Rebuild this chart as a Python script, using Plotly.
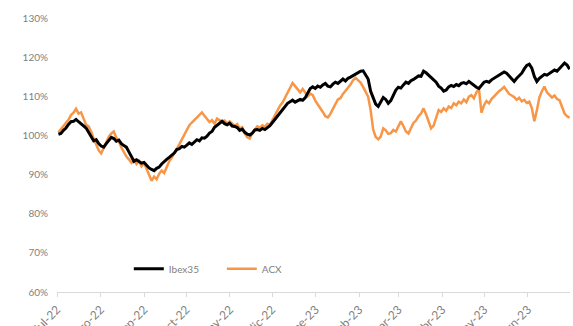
import pandas as pd
import plotly.graph_objects as go

ibex35 = [100.3, 100.5, 101.3, 101.9, 102.8, 103.5, 103.6, 104.1, 103.5, 103.0,
          102.3, 101.9, 100.8, 99.6, 98.6, 98.9, 97.9, 97.3, 97.0, 97.9,
          98.6, 99.5, 99.2, 98.5, 98.8, 97.9, 97.4, 97.0, 95.8, 94.6,
          93.4, 93.8, 93.3, 92.9, 93.1, 92.3, 91.7, 91.3, 91.0, 91.6,
          91.9, 92.7, 93.4, 93.9, 94.4, 95.0, 95.5, 96.4, 96.6, 97.2,
          97.0, 97.5, 98.1, 97.7, 98.3, 98.9, 98.6, 99.4, 99.3, 99.8,
          100.6, 101.0, 102.1, 102.6, 103.3, 103.6, 103.0, 102.7, 103.1, 102.4,
          102.3, 102.0, 101.3, 101.6, 100.8, 100.3, 100.1, 100.6, 101.4, 101.5,
          101.3, 101.8, 101.5, 102.0, 102.5, 103.3, 104.1, 104.9, 105.7, 106.6,
          107.5, 108.2, 108.6, 109.0, 108.5, 108.9, 109.2, 109.0, 109.6, 110.8,
          112.0, 112.4, 112.0, 112.6, 112.3, 112.9, 113.3, 112.6, 112.4, 113.1,
          113.6, 113.3, 113.8, 114.4, 113.9, 114.6, 114.9, 115.3, 115.6, 115.9,
          116.4, 116.5, 115.6, 114.4, 111.3, 109.5, 108.0, 107.4, 108.5, 109.7,
          109.2, 108.2, 108.9, 110.5, 111.6, 112.3, 112.1, 112.9, 113.6, 113.3,
          114.0, 114.3, 114.7, 115.2, 115.1, 116.4, 116.0, 115.4, 114.9, 114.2,
          113.6, 112.6, 112.1, 111.3, 111.6, 112.4, 112.8, 112.5, 113.0, 112.7,
          113.3, 113.5, 113.2, 113.8, 113.3, 112.6, 112.3, 112.0, 112.8, 113.6,
          113.8, 113.6, 114.2, 114.6, 114.9, 115.3, 115.6, 116.2, 115.9, 115.1,
          114.4, 113.8, 114.6, 115.2, 115.9, 117.0, 117.9, 118.2, 117.2, 115.1,
          113.8, 114.6, 115.2, 115.6, 115.4, 115.9, 116.4, 116.7, 116.4, 117.2,
          118.0, 118.5, 118.0, 116.9]

acx = [100.8, 101.6, 102.3, 103.4, 104.0, 105.2, 105.8, 106.8, 105.6, 105.9,
       104.4, 102.7, 102.3, 101.0, 99.2, 97.9, 96.2, 95.4, 96.7, 98.4,
       99.7, 100.5, 101.0, 99.4, 98.5, 96.9, 95.6, 94.6, 93.9, 93.0,
       93.7, 92.7, 93.5, 92.1, 93.0, 91.3, 89.6, 88.4, 89.5, 88.8,
       90.2, 91.0, 90.4, 92.1, 93.4, 94.3, 95.3, 96.6, 97.7, 99.0,
       100.4, 101.3, 102.6, 103.3, 104.0, 104.6, 105.2, 105.9, 105.0, 104.1,
       103.4, 103.9, 103.0, 104.3, 104.0, 103.5, 103.8, 103.1, 103.6, 103.0,
       102.4, 102.9, 101.8, 102.1, 100.5, 99.5, 99.2, 100.6, 101.6, 102.3,
       102.0, 102.6, 102.2, 103.0, 102.7, 104.0, 105.0, 106.4, 107.6, 108.4,
       109.7, 110.8, 112.0, 113.4, 112.6, 111.8, 111.0, 111.9, 110.8, 110.0,
       110.7, 110.3, 108.9, 108.0, 106.9, 106.0, 104.9, 104.6, 105.5, 106.9,
       108.0, 109.2, 109.5, 110.6, 111.3, 112.2, 113.0, 114.1, 114.7, 114.0,
       113.5, 112.4, 111.0, 109.9, 106.4, 101.5, 99.6, 99.0, 99.7, 101.8,
       101.3, 100.4, 100.6, 101.4, 101.0, 102.5, 103.6, 102.4, 101.0, 100.5,
       101.9, 103.2, 103.8, 104.9, 105.6, 106.9, 105.4, 103.8, 101.8, 102.5,
       104.8, 106.5, 106.0, 106.9, 106.3, 107.4, 107.0, 108.2, 107.7, 108.6,
       108.2, 109.2, 108.5, 109.9, 110.3, 109.5, 111.0, 111.9, 105.8, 107.7,
       108.8, 108.2, 109.3, 110.0, 110.5, 111.3, 111.8, 112.4, 111.5, 110.6,
       110.2, 109.8, 109.1, 109.6, 108.7, 109.1, 108.3, 108.6, 107.0, 103.6,
       106.4, 109.7, 111.3, 112.5, 111.0, 110.4, 109.7, 110.2, 109.3, 109.0,
       107.4, 105.6, 104.9, 104.5]

dates_ibex = pd.date_range("2022-07-02", periods=len(ibex35), freq="43h")
dates_acx = pd.date_range("2022-07-02", periods=len(acx), freq="43h")

tick_dates = pd.date_range("2022-07-01", periods=12, freq="MS")
tick_labels = ["jul-22", "ago-22", "sep-22", "oct-22", "nov-22", "dic-22",
               "ene-23", "feb-23", "mar-23", "abr-23", "may-23", "jun-23"]

y_ticks = [0.6, 0.7, 0.8, 0.9, 1.0, 1.1, 1.2, 1.3]

fig = go.Figure()
fig.add_trace(go.Scatter(x=dates_acx, y=[v / 100 for v in acx], name="ACX",
                         mode="lines", line=dict(color="#F79646", width=2.5)))
fig.add_trace(go.Scatter(x=dates_ibex, y=[v / 100 for v in ibex35], name="Ibex35",
                         mode="lines", line=dict(color="#000000", width=3)))

fig.update_layout(
    width=573, height=326,
    margin=dict(l=57, r=3, t=18, b=34),
    paper_bgcolor="white", plot_bgcolor="white",
    font=dict(family="Lato, Liberation Sans, sans-serif", size=10, color="#7f7f7f"),
    showlegend=True,
    legend=dict(orientation="h", x=0.14, y=0.085, xanchor="left", yanchor="middle",
                traceorder="reversed", bgcolor="rgba(0,0,0,0)",
                font=dict(size=10, color="#7f7f7f"), itemwidth=30,
                entrywidth=48, entrywidthmode="pixels"),
    xaxis=dict(
        type="date", range=["2022-07-01", "2023-07-01"],
        tickvals=tick_dates, ticktext=tick_labels, tickangle=-45,
        tickfont=dict(size=12, color="#7f7f7f"),
        showgrid=False, showline=True, linecolor="#d9d9d9", linewidth=1,
        ticks="outside", ticklen=4, tickcolor="#d9d9d9",
        ticklabelstandoff=1,
        automargin=False, zeroline=False,
    ),
    yaxis=dict(
        range=[0.6, 1.3], tickvals=y_ticks, tickformat=".0%",
        tickfont=dict(size=10, color="#7f7f7f"),
        showgrid=False, showline=False, zeroline=False,
        ticks="", ticklabelstandoff=8, automargin=False,
    ),
)

fig.write_html("out.html")
